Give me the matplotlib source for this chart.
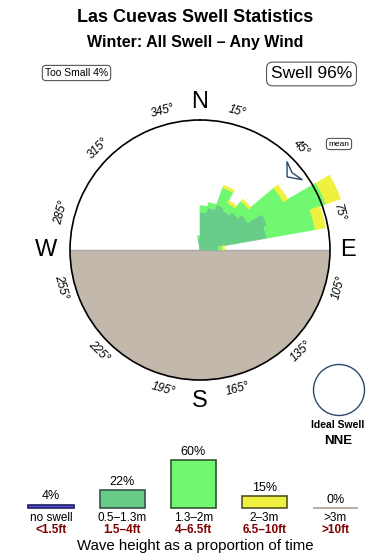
import numpy as np
import matplotlib
matplotlib.use("Agg")
import matplotlib.pyplot as plt
from matplotlib.patches import Circle, Polygon

plt.rcParams['font.family'] = ['Liberation Sans', 'DejaVu Sans']

# ---------------- data ----------------
TITLE = "Las Cuevas Swell Statistics"
SUBTITLE = "Winter: All Swell \u2013 Any Wind"

directions = [355, 5, 15, 25, 35, 45, 55, 65, 75, 85]      # bin centres (deg)
small_swell = [0.9, 2.9, 3.3, 3.7, 3.5, 3.8, 4.2, 5.5, 5.2, 1.4]   # 0.5-1.3m
medium_swell = [0.2, 0.5, 0.4, 1.4, 0.7, 1.1, 3.2, 4.8, 3.8, 0.3]  # 1.3-2m
large_swell = [0.0, 0.0, 0.0, 0.2, 0.2, 0.2, 0.4, 1.2, 0.8, 0.2]   # 2-3m
BIN_WIDTH = 10
CIRCLE_R = 10
MEAN_DIR = 50

degree_ticks = [15, 45, 75, 105, 135, 165, 195, 225, 255, 285, 315, 345]
compass = ["N", "E", "S", "W"]

height_pct = [4, 22, 60, 15, 0]
height_m = ["no swell", "0.5\u20131.3m", "1.3\u20132m", "2\u20133m", ">3m"]
height_ft = ["<1.5ft", "1.5\u20134ft", "4\u20136.5ft", "6.5\u201310ft", ">10ft"]
too_small_pct = 4
swell_pct = 96
ideal_dir = "NNE"

# ---------------- styles ----------------
C_SMALL = "#66cc88"
C_MED = "#70f870"
C_LARGE = "#f0f040"
C_NONE = "#5a50e6"
C_BIG = "#a89e94"
C_LAND = "#c2b8ab"
C_ARROW = "#2c4a6a"
C_FT = "#800000"

fig = plt.figure(figsize=(3.9, 5.6), dpi=100)

# ---------------- rose ----------------
pax = fig.add_axes([70 / 390, 180 / 560, 260 / 390, 260 / 560], projection="polar")
pax.set_theta_zero_location("N")
pax.set_theta_direction(-1)
pax.set_ylim(0, CIRCLE_R)
pax.grid(False)
pax.set_yticks([])
pax.set_xticks(np.deg2rad(degree_ticks))
pax.set_xticklabels([])
pax.tick_params(axis="x", direction="in", length=4, width=0.8, color="#333333")
pax.spines["polar"].set_linewidth(1.2)
pax.spines["polar"].set_zorder(6)

# land (southern half)
pax.bar(np.pi, CIRCLE_R, width=np.pi, bottom=0, color=C_LAND, linewidth=0, zorder=1)
pax.plot([np.pi / 2, np.pi / 2], [0, CIRCLE_R], color="#a8a8a8", lw=1, zorder=2)
pax.plot([3 * np.pi / 2, 3 * np.pi / 2], [0, CIRCLE_R], color="#a8a8a8", lw=1, zorder=2)

theta = np.deg2rad(directions)
w = np.deg2rad(BIN_WIDTH)
s = np.array(small_swell)
m = np.array(medium_swell)
l = np.array(large_swell)
pax.bar(theta, s, width=w, bottom=0, color=C_SMALL, edgecolor=C_SMALL, linewidth=0.4,
        zorder=3, clip_on=False)
pax.bar(theta, m, width=w, bottom=s, color=C_MED, edgecolor=C_MED, linewidth=0.4,
        zorder=3, clip_on=False)
ly = l > 0
pax.bar(theta[ly], l[ly], width=w, bottom=(s + m)[ly], color=C_LARGE, edgecolor=C_LARGE,
        linewidth=0.4, zorder=3, clip_on=False)

# mean direction arrow (local: d along mean bearing, q across)
def local_to_polar(d, q, bearing):
    b = np.deg2rad(bearing)
    x = d * np.sin(b) + q * np.cos(b)
    y = d * np.cos(b) - q * np.sin(b)
    return (np.arctan2(x, y), np.hypot(x, y))

arrow_local = [(8.75, 0.0), (9.5, 0.92), (9.25, 0.0), (9.5, -0.92)]
arrow_pts = [local_to_polar(d, q, MEAN_DIR) for d, q in arrow_local]
pax.add_patch(Polygon(arrow_pts, closed=True, facecolor="white", edgecolor=C_ARROW,
                      lw=1, zorder=5, transform=pax.transData))

# degree labels
for d in degree_ticks:
    rot = -d if (d < 90 or d > 270) else 180 - d
    pax.text(np.deg2rad(d), 11.05, f"{d}\u00b0", rotation=rot, rotation_mode="anchor",
             ha="center", va="center", fontsize=8.5, fontstyle="italic", clip_on=False)

# ---------------- overlay (pixel coords) ----------------
ov = fig.add_axes([0, 0, 1, 1], zorder=10)
ov.set_xlim(0, 390)
ov.set_ylim(560, 0)
ov.axis("off")
ov.patch.set_alpha(0)

ov.text(195, 18, TITLE, ha="center", va="center", fontsize=13, fontweight="bold")
ov.text(195, 42, SUBTITLE, ha="center", va="center", fontsize=11.5, fontweight="bold")

box = dict(boxstyle="round,pad=0.25,rounding_size=0.35", fc="white", ec="#555555", lw=0.8)
ov.text(76.5, 73, f"Too Small {too_small_pct}%", ha="center", va="center", fontsize=7.5, bbox=box)
ov.text(311.5, 74, f"Swell {swell_pct}%", ha="center", va="center", fontsize=12.5, bbox=box)
ov.text(339, 144, "mean", ha="center", va="center", fontsize=6, bbox=box)

for lab, (x, y) in zip(compass, [(200, 102), (348, 250), (200, 401), (46, 250)]):
    ov.text(x, y, lab, ha="center", va="center", fontsize=17)

ov.add_patch(Circle((339, 390), 25.5, fc="none", ec=C_ARROW, lw=1))
ov.text(338, 425, "Ideal Swell", ha="center", va="center", fontsize=7.5, fontweight="bold")
ov.text(338, 441, ideal_dir, ha="center", va="center", fontsize=9.5, fontweight="bold")

ov.text(195, 546, "Wave height as a proportion of time", ha="center", va="center", fontsize=10.8)

# ---------------- height bars ----------------
bax = fig.add_axes([15.45 / 390, 52 / 560, 355.5 / 390, 50 / 560])
bax.set_xlim(-0.5, 4.5)
bax.set_ylim(0, 62.5)
bax.axis("off")
fills = [C_NONE, C_SMALL, C_MED, C_LARGE, C_BIG]
edges = ["#202060", "#335544", "#335533", "#555522", C_BIG]
xs = np.arange(len(height_pct))
bax.bar(xs, height_pct, width=0.633, color=fills, edgecolor=edges, linewidth=1.2, clip_on=False)
for i, p in enumerate(height_pct):
    bax.annotate(f"{p}%", (i, p), xytext=(0, 6), textcoords="offset points",
                 ha="center", va="center", fontsize=9, annotation_clip=False)
    bax.annotate(height_m[i], (i, 0), xytext=(0, -7.5), textcoords="offset points",
                 ha="center", va="center", fontsize=8.5, annotation_clip=False)
    bax.annotate(height_ft[i], (i, 0), xytext=(0, -16), textcoords="offset points",
                 ha="center", va="center", fontsize=8.5, color=C_FT, fontweight="bold",
                 annotation_clip=False)

fig.savefig("out.png", dpi=100)
